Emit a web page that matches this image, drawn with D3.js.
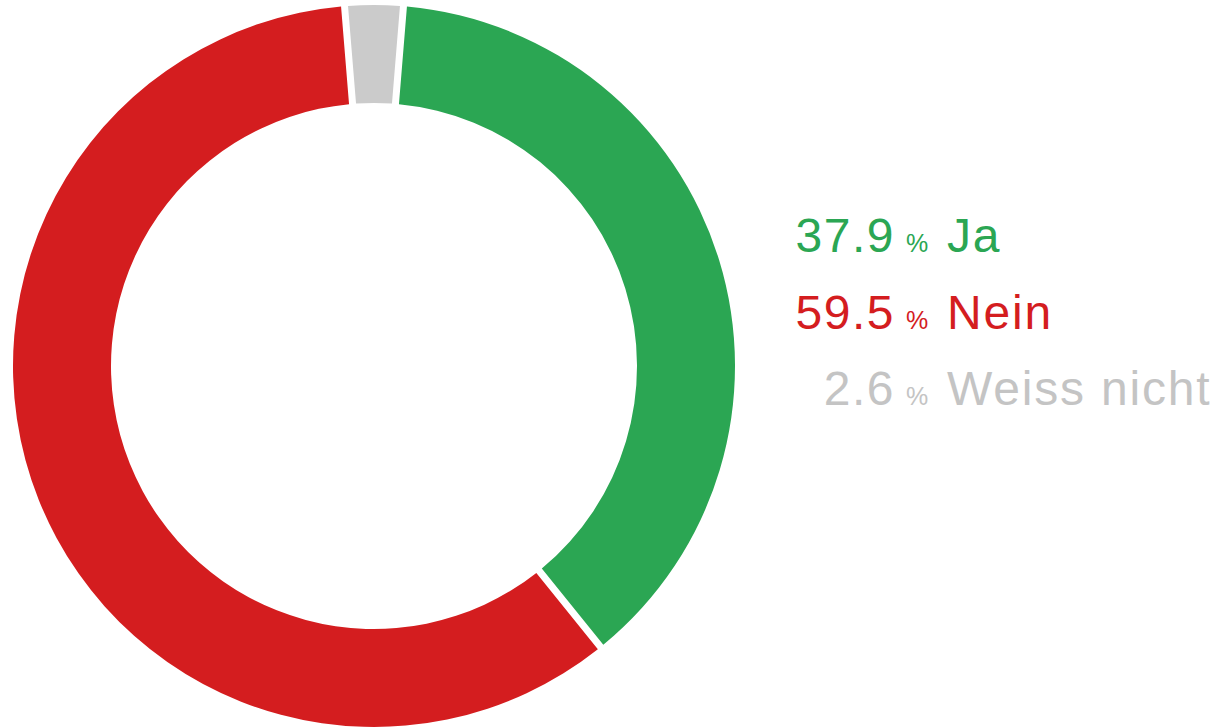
<!DOCTYPE html>
<html>
<head>
<meta charset="utf-8">
<script src="https://cdn.jsdelivr.net/npm/d3@7"></script>
<style>
  html, body { margin: 0; padding: 0; background: #ffffff; }
  svg { display: block; }
</style>
</head>
<body>
<svg id="chart" width="1226" height="728"></svg>
<script>
const categories = ["Ja", "Nein", "Weiss nicht"];
const values = [37.9, 59.5, 2.6];
const valueLabels = ["37.9", "59.5", "2.6"];
const colors = ["#2ba653", "#d41d1f", "#cbcbcb"];
const textColors = ["#2ba653", "#d41d1f", "#c4c4c4"];

const svg = d3.select("#chart");
const cx = 374, cy = 366, outerR = 361, innerR = 263;
const total = d3.sum(values);
const grayHalf = (values[2] / total) * Math.PI; // gray slice centered at top

const data = categories.map((c, i) => ({ cat: c, value: values[i], i }));

const pie = d3.pie()
  .value(d => d.value)
  .sort(null)
  .startAngle(grayHalf)
  .endAngle(grayHalf + 2 * Math.PI);

const arc = d3.arc()
  .innerRadius(innerR)
  .outerRadius(outerR)
  .padRadius(outerR)
  .padAngle(7 / outerR);

const g = svg.append("g").attr("transform", `translate(${cx},${cy})`);
g.selectAll("path")
  .data(pie(data))
  .join("path")
  .attr("d", arc)
  .attr("fill", d => colors[d.data.i]);

// legend
const legend = svg.append("g")
  .style("font-family", "'Liberation Sans', Arial, sans-serif");
const rowY = d3.scaleLinear().domain([0, 2]).range([252, 405]);
const numEnd = 895;

data.forEach((d, i) => {
  const y = rowY(i);
  legend.append("text")
    .attr("x", numEnd).attr("y", y)
    .attr("text-anchor", "end")
    .attr("fill", textColors[i])
    .style("font-size", "48px")
    .style("letter-spacing", "1.5px")
    .text(valueLabels[i]);
  legend.append("text")
    .attr("x", 906).attr("y", y)
    .attr("fill", textColors[i])
    .style("font-size", "25px")
    .text("%");
  legend.append("text")
    .attr("x", 947).attr("y", y)
    .attr("fill", textColors[i])
    .style("font-size", "48px")
    .style("letter-spacing", "1.8px")
    .text(d.cat);
});
</script>
</body>
</html>
